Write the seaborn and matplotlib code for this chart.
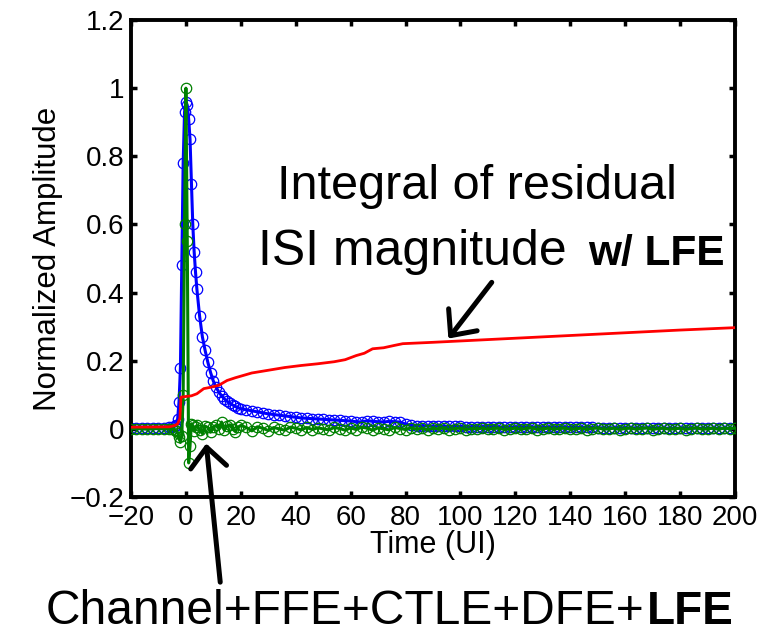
import matplotlib
matplotlib.use("Agg")
import matplotlib.pyplot as plt
from matplotlib import font_manager
import seaborn as sns

# time axis (UI) shared by the two pulse responses
time_ui = [-20, -18, -16, -14, -12, -10, -8, -6, -5, -4,
           -3.5, -3, -2.5, -2, -1.5, -1, -0.5, 0, 0.5, 1, 1.5, 2, 2.5, 3, 3.5,
           4, 5, 6, 7, 8, 9, 10, 11, 12, 13, 14, 15, 16, 17, 18, 19, 20,
           22, 24, 26, 28, 30, 32, 34, 36, 38, 40, 42, 44, 46, 48, 50,
           52, 54, 56, 58, 60, 62, 64, 66, 68, 70, 72, 74, 76, 78, 80,
           82, 84, 86, 88, 90, 92, 94, 96, 98, 100, 102, 104, 106, 108, 110,
           112, 114, 116, 118, 120, 122, 124, 126, 128, 130, 132, 134, 136, 138, 140,
           142, 144, 146, 148, 150, 152, 154, 156, 158, 160, 162, 164, 166, 168, 170,
           172, 174, 176, 178, 180, 182, 184, 186, 188, 190, 192, 194, 196, 198, 200]

# blue: channel pulse response
channel_resp = [0.003, 0.003, 0.003, 0.003, 0.003, 0.003, 0.003, 0.004, 0.005, 0.008,
                0.012, 0.03, 0.08, 0.18, 0.48, 0.78, 0.93, 0.96, 0.95, 0.91, 0.85, 0.72, 0.60, 0.52, 0.46,
                0.41, 0.33, 0.27, 0.23, 0.195, 0.165, 0.14, 0.122, 0.108, 0.097, 0.088, 0.081, 0.075, 0.070, 0.066, 0.062, 0.059,
                0.056, 0.053, 0.050, 0.047, 0.044, 0.042, 0.040, 0.038, 0.036, 0.034, 0.032, 0.031, 0.030, 0.029, 0.028,
                0.027, 0.026, 0.025, 0.024, 0.023, 0.021, 0.020, 0.024, 0.022, 0.021, 0.020, 0.022, 0.021, 0.020, 0.014,
                0.010, 0.009, 0.009, 0.008, 0.008, 0.008, 0.007, 0.007, 0.007, 0.007, 0.006, 0.006, 0.006, 0.006, 0.006,
                0.006, 0.005, 0.005, 0.005, 0.005, 0.005, 0.005, 0.005, 0.005, 0.005, 0.004, 0.004, 0.004, 0.004, 0.004,
                0.004, 0.004, 0.004, 0.004, 0.003, 0.003, 0.003, 0.003, 0.003, 0.003, 0.003, 0.003, 0.003, 0.003, 0.003,
                0.002, 0.002, 0.002, 0.002, 0.002, 0.002, 0.002, 0.002, 0.002, 0.002, 0.002, 0.002, 0.002, 0.002, 0.002]

# green: Channel+FFE+CTLE+DFE+LFE
equalized_resp = [0.0, 0.001, 0.0, -0.001, 0.0, 0.001, 0.0, 0.0, -0.001, -0.003,
                  -0.006, -0.012, -0.025, -0.04, -0.02, 0.10, 0.60, 1.0, 0.55, -0.10, -0.05, 0.015, 0.01, -0.005, 0.005,
                  0.01, -0.003, -0.014, 0.008, 0.004, -0.01, 0.006, 0.01, 0.0, 0.02, -0.004, 0.008, 0.012, 0.0, -0.008, 0.005, 0.01,
                  0.004, -0.006, 0.006, 0.002, -0.005, 0.004, 0.0, -0.004, 0.005, 0.002, -0.003, 0.004, -0.002, 0.003, 0.0,
                  -0.003, 0.004, 0.001, -0.004, 0.003, -0.002, 0.005, 0.002, -0.004, 0.003, 0.0, -0.003, 0.004, 0.001, -0.002,
                  0.003, -0.001, 0.002, -0.003, 0.002, 0.0, 0.003, -0.002, 0.001, 0.002, -0.002, 0.001, 0.0, 0.002, -0.001,
                  0.001, 0.002, -0.002, 0.0, 0.002, -0.001, 0.001, 0.003, -0.002, 0.0, 0.002, -0.001, 0.001, 0.002, -0.001,
                  0.0, 0.002, -0.002, 0.001, 0.003, -0.001, 0.0, 0.002, -0.002, 0.001, 0.002, -0.001, 0.001, 0.003, -0.002,
                  0.001, 0.002, -0.001, 0.0, 0.002, -0.002, 0.001, 0.003, -0.001, 0.0, 0.002, -0.001, 0.002, 0.001, 0.002]

# red: integral of residual ISI magnitude w/ LFE
isi_time = [-20, -6, -4, -3, -2.2, -1.8, 0, 2, 4, 5.5,
            6.5, 9, 12, 15, 18, 24, 30, 36, 42, 48,
            54, 58, 62, 65, 68, 72, 76, 79, 90, 100,
            120, 140, 160, 180, 200]
isi_integral = [0.005, 0.006, 0.01, 0.015, 0.03, 0.093, 0.095, 0.097, 0.103, 0.112,
                0.118, 0.122, 0.128, 0.142, 0.15, 0.164, 0.172, 0.18, 0.186, 0.191,
                0.197, 0.203, 0.215, 0.222, 0.235, 0.238, 0.245, 0.25, 0.254, 0.258,
                0.266, 0.274, 0.282, 0.29, 0.297]

xticks = [-20, 0, 20, 40, 60, 80, 100, 120, 140, 160, 180, 200]
xtick_labels = ["\u221220", "0", "20", "40", "60", "80", "100", "120", "140", "160", "180", "200"]
yticks = [-0.2, 0, 0.2, 0.4, 0.6, 0.8, 1.0, 1.2]
ytick_labels = ["\u22120.2", "0", "0.2", "0.4", "0.6", "0.8", "1", "1.2"]

sns.set_style("ticks")
plt.rcParams["font.family"] = ["Liberation Sans", "DejaVu Sans"]
plt.rcParams["text.color"] = "black"
plt.rcParams["axes.labelcolor"] = "black"
plt.rcParams["xtick.color"] = "black"
plt.rcParams["ytick.color"] = "black"

W, H = 774, 634
fig = plt.figure(figsize=(W / 100, H / 100), dpi=100)
ax = fig.add_axes([131 / W, 1 - 497 / H, 604 / W, 477 / H])

sns.lineplot(x=time_ui, y=channel_resp, color="blue", lw=2.2, marker="o", markersize=7.5,
             markerfacecolor="none", markeredgecolor="blue", markeredgewidth=0.9,
             errorbar=None, ax=ax, zorder=2)
sns.lineplot(x=time_ui, y=equalized_resp, color="green", lw=2.2, marker="o", markersize=7.5,
             markerfacecolor="none", markeredgecolor="green", markeredgewidth=0.9,
             errorbar=None, ax=ax, zorder=3)
sns.lineplot(x=isi_time, y=isi_integral, color="red", lw=2, errorbar=None, ax=ax, zorder=4)

ax.set_xlim(-20, 200)
ax.set_ylim(-0.2, 1.2)
ax.set_xticks(xticks)
ax.set_xticklabels(xtick_labels)
ax.set_yticks(yticks)
ax.set_yticklabels(ytick_labels)
ax.tick_params(direction="in", length=4, width=2.5, top=True, right=True, labelsize=20)
ax.tick_params(axis="x", pad=5.5)
ax.tick_params(axis="y", pad=4.5)
for s in ax.spines.values():
    s.set_linewidth(2.8)
    s.set_color("black")

ax.set_xlabel("Time (UI)", fontsize=22)
ax.set_ylabel("Normalized Amplitude", fontsize=22.5)
ax.xaxis.set_label_coords(0.5, -0.07)
ax.yaxis.set_label_coords(-0.112, 0.5)


def fx(px):
    return px / W


def fy(py):
    return 1 - py / H


# the bold words are narrower than the normal ones in the reference
font_names = {f.name for f in font_manager.fontManager.ttflist}
if "Liberation Sans Narrow" in font_names:
    bold_kw = dict(family="Liberation Sans Narrow", fontsize=35)
else:
    bold_kw = dict(fontsize=30.5)

fig.text(fx(277), fy(199), "Integral of residual", fontsize=35, va="baseline", ha="left")
fig.text(fx(258), fy(265), "ISI magnitude", fontsize=36, va="baseline", ha="left")
fig.text(fx(588), fy(265), "w/ LFE", va="baseline", ha="left", fontweight="bold", **bold_kw)
fig.text(fx(46), fy(624), "Channel+FFE+CTLE+DFE+", fontsize=34.5, va="baseline", ha="left")
fig.text(fx(647), fy(624), "LFE", fontsize=33, va="baseline", ha="left", fontweight="bold")

arrow = dict(arrowstyle="->,head_length=0.4,head_width=0.36", lw=3.6, color="black",
             mutation_scale=36, shrinkA=0, shrinkB=0)
ax.annotate("", xy=(95.6, 0.265), xytext=(111.4, 0.43), arrowprops=arrow, annotation_clip=False)
ax.annotate("", xy=(7.4, -0.043), xytext=(12.5, -0.45), arrowprops=arrow, annotation_clip=False)

plt.savefig("out.png", dpi=100)
